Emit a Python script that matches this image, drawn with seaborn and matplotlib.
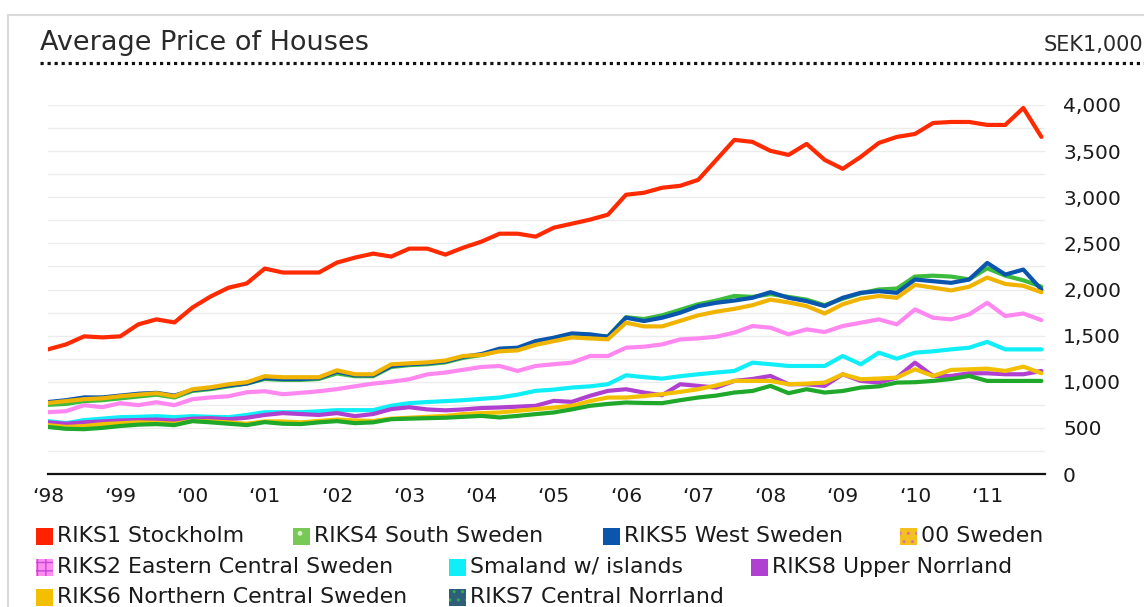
import numpy as np
import pandas as pd
import seaborn as sns
import matplotlib.pyplot as plt
from matplotlib.patches import Rectangle
from matplotlib.lines import Line2D
from matplotlib.ticker import MultipleLocator, FuncFormatter

# quarterly average house prices (SEK 1,000), 1998Q1 .. 2011Q4
series_names = ["RIKS1 Stockholm", "RIKS4 South Sweden", "RIKS5 West Sweden", "00 Sweden",
                "RIKS2 Eastern Central Sweden", "Smaland w/ islands", "RIKS8 Upper Norrland",
                "RIKS6 Northern Central Sweden", "RIKS7 Central Norrland"]

riks1 = [1351, 1405, 1492, 1481, 1492, 1622, 1676, 1643, 1805, 1924, 2020, 2065, 2227, 2184,
         2184, 2184, 2292, 2346, 2389, 2357, 2443, 2443, 2378, 2454, 2519, 2605, 2605, 2573,
         2670, 2713, 2757, 2811, 3027, 3049, 3103, 3124, 3189, 3405, 3622, 3600, 3503, 3459,
         3578, 3405, 3308, 3438, 3589, 3654, 3686, 3805, 3816, 3816, 3784, 3784, 3968, 3654]
riks4 = [750, 760, 790, 800, 820, 840, 860, 830, 900, 920, 950, 980, 1030, 1020, 1020, 1030,
         1090, 1060, 1060, 1160, 1180, 1190, 1210, 1260, 1290,
         1340, 1360, 1420, 1460, 1510, 1500, 1490, 1700, 1680, 1720, 1780, 1840, 1880, 1930,
         1920, 1950, 1920, 1890, 1830, 1900, 1960, 2000, 2010, 2140, 2150, 2140, 2110, 2230,
         2150, 2100, 2030]
riks5 = [780, 800, 830, 830, 850, 870, 880, 850, 910, 930, 960, 980, 1040, 1030, 1030, 1040,
         1110, 1070, 1070, 1170, 1190, 1200, 1220, 1270, 1300,
         1359, 1369, 1441, 1477, 1524, 1514, 1488, 1694, 1658, 1694, 1748, 1820, 1856, 1880,
         1910, 1971, 1910, 1874, 1820, 1910, 1964, 1982, 1964, 2108, 2090, 2072, 2108, 2288,
         2162, 2216, 2000]
sweden = [770, 790, 811, 820, 843, 860, 876, 843, 919, 940, 973, 995, 1060, 1049, 1049, 1049,
          1124, 1081, 1081, 1189, 1200, 1210, 1230, 1280, 1290,
          1330, 1340, 1400, 1440, 1480, 1470, 1460, 1640, 1600, 1600, 1660, 1720, 1760, 1790,
          1830, 1890, 1860, 1820, 1740, 1840, 1900, 1930, 1910, 2050, 2020, 1990, 2030, 2130,
          2060, 2040, 1970]
riks2 = [670, 681, 746, 724, 768, 746, 778, 746, 811, 830, 843, 886, 897, 865, 880, 897, 920,
         951, 980, 1000, 1027, 1080, 1100, 1130, 1160,
         1171, 1117, 1171, 1190, 1207, 1279, 1279, 1369, 1380, 1405, 1459, 1470, 1488, 1532,
         1604, 1586, 1514, 1568, 1539, 1604, 1640, 1676, 1622, 1784, 1694, 1676, 1730, 1856,
         1712, 1740, 1668]
smaland = [573, 551, 584, 600, 616, 620, 627, 616, 627, 620, 616, 640, 670, 670, 670, 680, 692,
           692, 692, 740, 768, 780, 790, 800, 815,
           829, 860, 901, 915, 937, 950, 973, 1070, 1050, 1034, 1060, 1081, 1100, 1117, 1207,
           1190, 1171, 1171, 1171, 1279, 1189, 1315, 1250, 1315, 1330, 1351, 1369, 1432, 1351,
           1351, 1351]
riks8 = [560, 545, 560, 570, 580, 585, 590, 580, 600, 605, 594, 610, 640, 660, 650, 640, 660,
         627, 650, 703, 724, 700, 690, 700, 715,
         721, 730, 739, 793, 782, 847, 901, 919, 883, 854, 973, 955, 937, 1009, 1030, 1063, 973,
         973, 955, 1081, 1009, 991, 1045, 1207, 1063, 1063, 1092, 1092, 1081, 1081, 1117]
riks6 = [530, 510, 520, 540, 550, 560, 555, 545, 575, 570, 560, 545, 570, 570, 560, 575, 590,
         580, 575, 600, 610, 620, 630, 650, 660,
         667, 685, 703, 720, 739, 790, 829, 829, 845, 865, 890, 919, 960, 1009, 1009, 1009, 973,
         980, 991, 1081, 1027, 1035, 1045, 1135, 1063, 1128, 1135, 1142, 1117, 1164, 1092]
riks7 = [510, 490, 486, 500, 520, 535, 541, 530, 573, 560, 545, 530, 562, 545, 541, 560, 573,
         551, 560, 594, 600, 605, 610, 620, 630,
         613, 630, 649, 667, 700, 739, 760, 775, 770, 768, 800, 829, 850, 883, 900, 955, 876,
         919, 883, 900, 937, 950, 991, 995, 1009, 1030, 1063, 1009, 1009, 1009, 1009]

year_labels = ["\u201898", "\u201899", "\u201800", "\u201801", "\u201802", "\u201803", "\u201804",
               "\u201805", "\u201806", "\u201807", "\u201808", "\u201809", "\u201810", "\u201811"]

line_colors = ["#ff2a00", "#3dbb3d", "#0a55ad", "#f0b400", "#ff88f0", "#10eef8", "#b040d0",
               "#f2c000", "#1fa82a"]

# --- long-form frame for seaborn ---
values = [riks1, riks4, riks5, sweden, riks2, smaland, riks8, riks6, riks7]
t = 1998 + 0.25 * np.arange(len(riks1))
df = pd.concat([pd.DataFrame({"t": t, "price": v, "series": name})
                for name, v in zip(series_names, values)], ignore_index=True)

sns.set_style("white")
plt.rcParams["font.family"] = ["DejaVu Sans"]

W, H = 1144, 607
fig = plt.figure(figsize=(W / 100, H / 100), dpi=100)
ax = fig.add_axes([48 / W, (H - 474) / H, (1045 - 48) / W, (474 - 105) / H])

sns.lineplot(data=df, x="t", y="price", hue="series", hue_order=series_names,
             palette=line_colors, linewidth=3.0, legend=False, ax=ax)

ax.set_xlim(1998, 2011.8)
ax.set_ylim(0, 4000)
ax.set_xlabel("")
ax.set_ylabel("")

# y axis: labels on the right every 500, faint grid every 250
ax.yaxis.set_major_locator(MultipleLocator(500))
ax.yaxis.set_minor_locator(MultipleLocator(250))
ax.yaxis.set_major_formatter(FuncFormatter(lambda v, p: f"{int(v):,}"))
ax.yaxis.tick_right()
ax.tick_params(axis="y", which="both", length=0, pad=13, labelsize=14.5, labelcolor="#1a1a1a")
ax.grid(axis="y", which="both", color="#ececec", linewidth=1)

# x axis: year labels, quarterly minor ticks pointing up
ax.set_xticks(np.arange(1998, 2012))
ax.set_xticklabels(year_labels)
ax.xaxis.set_minor_locator(MultipleLocator(0.25))
ax.tick_params(axis="x", which="major", direction="in", length=9.5, width=1, color="#9a9a9a",
               pad=9, labelsize=14.5, labelcolor="#1a1a1a")
ax.tick_params(axis="x", which="minor", direction="in", length=5, width=1, color="#9a9a9a")

for s in ["top", "left", "right"]:
    ax.spines[s].set_visible(False)
ax.spines["bottom"].set_color("#111")
ax.spines["bottom"].set_linewidth(1.6)

# frame, title, unit, dotted rule
fig.patches.append(Rectangle((8 / W, -0.1), 1.2, 1.1 - 15 / H, transform=fig.transFigure,
                             fill=False, edgecolor="#dadada", linewidth=1.5))
fig.text(40 / W, 1 - 43 / H, "Average Price of Houses", ha="left", va="center",
         fontsize=19.5, color="#2a2a2a")
fig.text(1143 / W, 1 - 45 / H, "SEK1,000", ha="right", va="center", fontsize=15,
         color="#2a2a2a")
fig.lines.append(Line2D([40 / W, 1.0], [1 - 63 / H, 1 - 63 / H], transform=fig.transFigure,
                        color="#111", linewidth=2.3, linestyle=(0, (1, 1.2)),
                        solid_capstyle="butt", dash_capstyle="butt"))

# legend laid out in rows like the original
handle_x = [36, 293, 603, 900, 36, 449, 751, 36, 449]
handle_row = [0, 0, 0, 0, 1, 1, 1, 2, 2]
row_y = [536, 567, 597]
handle_face = ["#ff2200", "#78c858", "#0a55ad", "#f2c020", "#ff8cf0", "#10eef8", "#b040d0",
               "#f2c000", "#2d5f7a"]
handle_hatch = [None, ".", None, "..", "++", None, None, None, ".."]
handle_hatch_col = ["none", "#d8f0c8", "none", "#e070a0", "#c848d8", "none", "none", "none",
                    "#30b040"]
sq = 17
for name, hx, r, fc, hh, hc in zip(series_names, handle_x, handle_row, handle_face,
                                   handle_hatch, handle_hatch_col):
    cy = row_y[r]
    rect = Rectangle((hx / W, 1 - (cy + sq / 2) / H), sq / W, sq / H, transform=fig.transFigure,
                     facecolor=fc, edgecolor=hc if hh else fc, hatch=hh, linewidth=0)
    fig.patches.append(rect)
    fig.text((hx + sq + 4) / W, 1 - cy / H, name, ha="left", va="center", fontsize=15.8,
             color="#1a1a1a")

fig.savefig("out.png", dpi=100)
